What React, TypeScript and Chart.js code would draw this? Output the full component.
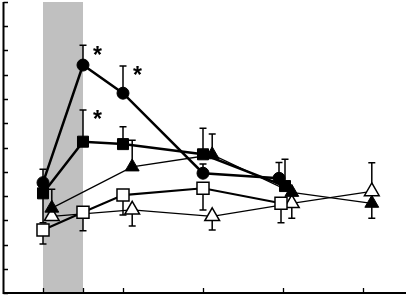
import React, { useEffect, useRef } from "react";
import { Chart, registerables } from "chart.js";

Chart.register(...registerables);

const xTicks = [0, 1, 2, 4, 6, 8];
const yTicks = [0, 1, 2, 3, 4, 5, 6, 7, 8, 9, 10, 11, 12];
const bandRange = [0, 1];

const filledCircleX = [0, 1, 2, 4, 5.9];
const filledCircleY = [4.55, 9.4, 8.24, 4.94, 4.73];
const filledCircleUp = [0.55, 0.82, 1.12, 0.38, 0.65];
const filledCircleDown = [0, 0, 0, 0, 0];

const filledSquareX = [0, 1, 2, 4, 6.05];
const filledSquareY = [4.11, 6.24, 6.14, 5.72, 4.41];
const filledSquareUp = [0, 1.31, 0.72, 1.07, 1.11];
const filledSquareDown = [1.21, 0, 0, 0, 0];

const openSquareX = [0, 1, 2, 4, 5.95];
const openSquareY = [2.6, 3.33, 4.04, 4.32, 3.7];
const openSquareUp = [0, 0, 0, 0, 0];
const openSquareDown = [0.58, 0.76, 0.82, 0.9, 0.8];

const filledTriX = [0.22, 2.23, 4.23, 6.22, 8.22];
const filledTriY = [3.5, 5.2, 5.7, 4.15, 3.7];
const filledTriUp = [0.78, 1.1, 0.86, 0, 0];
const filledTriDown = [0, 0, 0, 0, 0.62];

const openTriX = [0.22, 2.23, 4.23, 6.22, 8.22];
const openTriY = [3.16, 3.43, 3.16, 3.7, 4.19];
const openTriUp = [0, 0, 0, 0, 1.18];
const openTriDown = [0, 0.67, 0.56, 0.62, 0];

// asterisks: [series index, point index]
const asteriskSeries = [0, 0, 1];
const asteriskPoints = [1, 2, 1];

type Series = {
  x: number[];
  y: number[];
  up: number[];
  down: number[];
  style: string;
  filled: boolean;
  radius: number;
  lineWidth: number;
};

const series: Series[] = [
  { x: filledCircleX, y: filledCircleY, up: filledCircleUp, down: filledCircleDown, style: "circle", filled: true, radius: 6, lineWidth: 2.5 },
  { x: filledSquareX, y: filledSquareY, up: filledSquareUp, down: filledSquareDown, style: "rect", filled: true, radius: 7.8, lineWidth: 2.5 },
  { x: openSquareX, y: openSquareY, up: openSquareUp, down: openSquareDown, style: "rect", filled: false, radius: 8.5, lineWidth: 2.2 },
  { x: filledTriX, y: filledTriY, up: filledTriUp, down: filledTriDown, style: "triangle", filled: true, radius: 8, lineWidth: 1.3 },
  { x: openTriX, y: openTriY, up: openTriUp, down: openTriDown, style: "triangle", filled: false, radius: 8.5, lineWidth: 1.3 },
];

const customPlugin = {
  id: "customDraw",
  beforeDatasetsDraw(chart: any) {
    const { ctx, chartArea, scales } = chart;
    const xs = scales.x;
    const ys = scales.y;
    ctx.save();
    ctx.fillStyle = "#c0c0c0";
    const bx0 = xs.getPixelForValue(bandRange[0]);
    const bx1 = xs.getPixelForValue(bandRange[1]);
    ctx.fillRect(bx0, chartArea.top, bx1 - bx0, chartArea.bottom - chartArea.top);

    ctx.strokeStyle = "#000";
    ctx.lineWidth = 1.5;
    const cap = 3.5;
    series.forEach((s) => {
      s.x.forEach((xv, i) => {
        const px = xs.getPixelForValue(xv);
        const py = ys.getPixelForValue(s.y[i]);
        const ends: number[] = [];
        if (s.up[i] > 0) ends.push(ys.getPixelForValue(s.y[i] + s.up[i]));
        if (s.down[i] > 0) ends.push(ys.getPixelForValue(s.y[i] - s.down[i]));
        ends.forEach((ey) => {
          ctx.beginPath();
          ctx.moveTo(px, py);
          ctx.lineTo(px, ey);
          ctx.moveTo(px - cap, ey);
          ctx.lineTo(px + cap, ey);
          ctx.stroke();
        });
      });
    });
    ctx.restore();
  },
  afterDraw(chart: any) {
    const { ctx, chartArea, scales } = chart;
    const xs = scales.x;
    const ys = scales.y;
    ctx.save();
    ctx.strokeStyle = "#000";
    ctx.lineWidth = 2;
    const ax = chartArea.left + 0.5;
    const ay = chartArea.bottom;
    ctx.beginPath();
    ctx.moveTo(ax, chartArea.top);
    ctx.lineTo(ax, ay + 1);
    ctx.moveTo(ax - 1, ay);
    ctx.lineTo(chartArea.right, ay);
    ctx.stroke();
    ctx.lineWidth = 1.3;
    ctx.beginPath();
    yTicks.forEach((v) => {
      const py = Math.round(ys.getPixelForValue(v)) + 0.5;
      ctx.moveTo(ax, py);
      ctx.lineTo(ax + 4.5, py);
    });
    xTicks.forEach((v) => {
      const px = Math.round(xs.getPixelForValue(v)) + 0.5;
      ctx.moveTo(px, ay);
      ctx.lineTo(px, ay - 5);
    });
    ctx.stroke();

    ctx.fillStyle = "#000";
    ctx.font = "bold 23px 'Liberation Sans', Arial, sans-serif";
    ctx.textAlign = "center";
    ctx.textBaseline = "middle";
    asteriskSeries.forEach((si, k) => {
      const s = series[si];
      const i = asteriskPoints[k];
      const px = xs.getPixelForValue(s.x[i]);
      const top = ys.getPixelForValue(s.y[i] + s.up[i]);
      ctx.fillText("*", px + 14.5, top + 11);
    });
    ctx.restore();
  },
};

export default function App() {
  const ref = useRef<HTMLCanvasElement | null>(null);
  useEffect(() => {
    document.body.style.margin = "0";
    if (!ref.current) return;
    const chart = new Chart(ref.current, {
      type: "line",
      data: {
        datasets: series.map((s) => ({
          data: s.x.map((xv, i) => ({ x: xv, y: s.y[i] })),
          borderColor: "#000",
          borderWidth: s.lineWidth,
          pointStyle: s.style as any,
          pointRadius: s.radius,
          pointHoverRadius: s.radius,
          pointBackgroundColor: s.filled ? "#000" : "#fff",
          pointBorderColor: "#000",
          pointBorderWidth: s.filled ? 1 : 1.5,
          tension: 0,
          fill: false,
          clip: false as any,
        })),
      },
      options: {
        animation: false,
        responsive: false,
        devicePixelRatio: 1,
        layout: { autoPadding: false, padding: { left: 3, right: 0, top: 2, bottom: 5 } },
        plugins: { legend: { display: false }, tooltip: { enabled: false } },
        scales: {
          x: { type: "linear", min: -1, max: 9.075, display: false },
          y: { type: "linear", min: 0, max: 12, display: false },
        },
      },
      plugins: [customPlugin],
    });
    return () => chart.destroy();
  }, []);
  return <canvas ref={ref} width={406} height={298} style={{ display: "block" }} />;
}
